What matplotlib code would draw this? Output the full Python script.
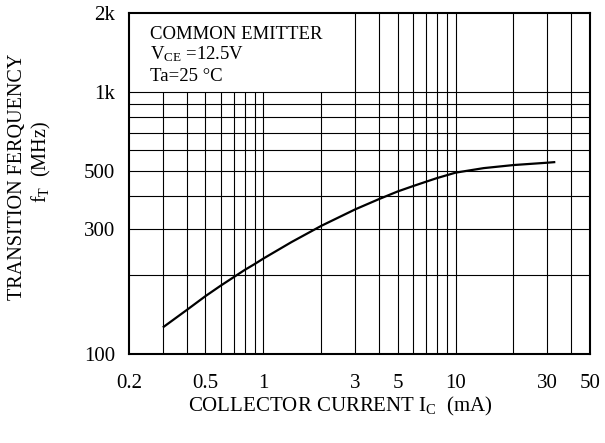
import matplotlib
matplotlib.use("Agg")
import matplotlib.pyplot as plt
from matplotlib.ticker import FixedLocator, FixedFormatter, NullLocator

plt.rcParams['font.family'] = ['Liberation Serif', 'DejaVu Serif']
plt.rcParams['mathtext.fontset'] = 'custom'
plt.rcParams['mathtext.rm'] = 'Liberation Serif'
plt.rcParams['mathtext.it'] = 'Liberation Serif:italic'

# fT vs IC, common emitter, VCE = 12.5 V, Ta = 25 C
ic_ma = [0.3, 0.4, 0.5, 0.6, 0.7, 0.8, 0.9, 1.0, 1.4, 2, 3, 4, 5, 6, 7, 8, 10, 14, 20, 30, 33]
ft_mhz = [126, 147, 166, 182, 196, 209, 220, 231, 267, 308, 356, 390, 417, 437, 454, 469, 492, 512, 526, 537, 540]

# axis ticks and grid
x_ticks = [0.2, 0.5, 1, 3, 5, 10, 30, 50]
x_tick_labels = ['0.2', '0.5', '1', '3', '5', '10', '30', '50']
y_ticks = [100, 300, 500, 1000, 2000]
y_tick_labels = ['100', '300', '500', '1k', '2k']
x_grid_short = [0.3, 0.4, 0.5, 0.6, 0.7, 0.8, 0.9, 1, 2]   # stop below the note box
x_grid_full = [3, 4, 5, 6, 7, 8, 9, 10, 20, 30, 40]
y_grid = [200, 300, 400, 500, 600, 700, 800, 900, 1000]

fig = plt.figure(figsize=(6.05, 4.43), dpi=100)
ax = fig.add_axes([0.2132, 0.2016, 0.762, 0.7684])
ax.set_xscale('log')
ax.set_yscale('log')
ax.set_xlim(0.2, 50)
ax.set_ylim(100, 2000)

ax.vlines(x_grid_short, 100, 1000, colors='black', linewidth=0.8)
ax.vlines(x_grid_full, 100, 2000, colors='black', linewidth=0.8)
ax.hlines(y_grid, 0.2, 50, colors='black', linewidth=0.8)

ax.plot(ic_ma, ft_mhz, color='black', linewidth=1.6, solid_capstyle='butt')

ax.xaxis.set_major_locator(FixedLocator(x_ticks))
ax.xaxis.set_major_formatter(FixedFormatter(x_tick_labels))
ax.xaxis.set_minor_locator(NullLocator())
ax.yaxis.set_major_locator(FixedLocator(y_ticks))
ax.yaxis.set_major_formatter(FixedFormatter(y_tick_labels))
ax.yaxis.set_minor_locator(NullLocator())
ax.tick_params(axis='x', length=0, pad=14.5, labelsize=15)
ax.tick_params(axis='y', length=0, pad=10, labelsize=15)

for s in ax.spines.values():
    s.set_linewidth(1.5)

# conditions note
note = ['COMMON EMITTER', r'V$_{\mathrm{CE}}$ =12.5V', 'Ta=25 °C']
for txt, yb in zip(note, [0.912, 0.8652, 0.8178]):
    fig.text(0.248, yb, txt, fontsize=13.5, va='baseline', ha='left')

fig.text(0.562, 0.0722, r'COLLECTOR CURRENT I$_{\mathrm{C}}$  (mA)',
         fontsize=15, ha='center', va='baseline')
fig.text(0.029, 0.6005, 'TRANSITION FERQUENCY', fontsize=14.5,
         rotation=90, ha='center', va='center')
fig.text(0.0678, 0.634, r'f$_{\mathrm{T}}$  (MHz)', fontsize=14.5,
         rotation=90, ha='center', va='center')

fig.savefig('out.png', dpi=100)
